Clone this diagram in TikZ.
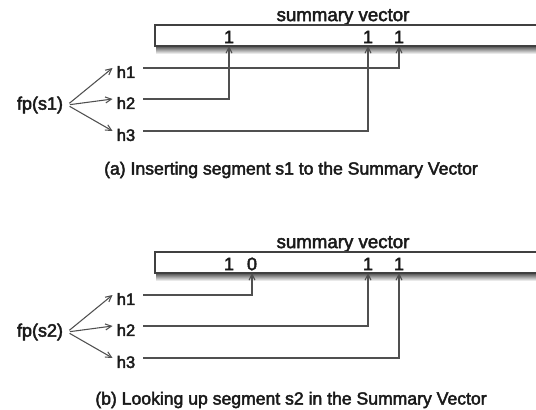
\documentclass[tikz,border=0pt]{standalone}
\usepackage{fontspec}
\setmainfont{Liberation Sans}[FakeBold=2.5]
\usetikzlibrary{arrows.meta}
\definecolor{linec}{HTML}{505050}
\definecolor{textc}{HTML}{1A1A1A}
\definecolor{barc}{HTML}{404040}
\begin{document}
\begin{tikzpicture}[x=0.75pt,y=-0.75pt,
  conn/.style={draw=linec, line width=0.8pt, -{Straight Barb[length=4.5pt,width=4.5pt]}},
  hlab/.style={font=\fontsize{12.4}{14}\selectfont, text=textc, inner xsep=3pt, inner ysep=1pt},
  fplab/.style={font=\fontsize{13.5}{15}\selectfont, text=textc, inner xsep=3pt},
  bitlab/.style={font=\fontsize{13.5}{15}\selectfont, text=textc, inner sep=0pt},
  titlelab/.style={font=\fontsize{14}{16}\selectfont, text=textc, inner sep=0pt},
  caplab/.style={font=\fontsize{13.2}{15}\selectfont, text=textc, inner sep=0pt},
  barbox/.style={draw=barc, line width=1.1pt, fill=white}]
\useasboundingbox (0,0) rectangle (536,410);
\clip (0,0) rectangle (536,410);

% ---------------- panel (a)
\node[titlelab] (sva) at (343,17) {summary vector};
\shade[top color=black!70, bottom color=white] (156,46) rectangle (560,54);
\draw[barbox] (155,25) rectangle (560,46);
\coordinate (barA) at (0,46);
\node[bitlab] (a1) at (229,37) {1};
\node[bitlab] (a2) at (368,37) {1};
\node[bitlab] (a3) at (399,37) {1};
\node[fplab] (fpa) at (40,105) {fp(s1)};
\node[hlab] (ah1) at (126,72) {h1};
\node[hlab] (ah2) at (126,103) {h2};
\node[hlab] (ah3) at (126,135) {h3};
\draw[conn, shorten <=2pt] (fpa.east) -- ([yshift=3pt]ah1.west);
\draw[conn, shorten <=2pt] (fpa.east) -- ([yshift=3pt]ah2.west);
\draw[conn, shorten <=2pt] (fpa.east) -- ([yshift=3pt]ah3.west);
\draw[conn] ([xshift=3pt,yshift=3pt]ah1.east) -| (a3 |- barA);
\draw[conn] ([xshift=3pt,yshift=3pt]ah2.east) -| (a1 |- barA);
\draw[conn] ([xshift=3pt,yshift=3pt]ah3.east) -| (a2 |- barA);
\node[caplab] (capa) at (291,170) {(a) Inserting segment s1 to the Summary Vector};

% ---------------- panel (b)
\begin{scope}[shift={(0,227)}]
\node[titlelab] (svb) at (343,17) {summary vector};
\shade[top color=black!70, bottom color=white] (156,46) rectangle (560,54);
\draw[barbox] (155,25) rectangle (560,46);
\coordinate (barB) at (0,46);
\node[bitlab] (b0) at (229,37) {1};
\node[bitlab] (b1) at (252,37) {0};
\node[bitlab] (b2) at (368,37) {1};
\node[bitlab] (b3) at (399,37) {1};
\node[fplab] (fpb) at (40,105) {fp(s2)};
\node[hlab] (bh1) at (126,72) {h1};
\node[hlab] (bh2) at (126,103) {h2};
\node[hlab] (bh3) at (126,135) {h3};
\draw[conn, shorten <=2pt] (fpb.east) -- ([yshift=3pt]bh1.west);
\draw[conn, shorten <=2pt] (fpb.east) -- ([yshift=3pt]bh2.west);
\draw[conn, shorten <=2pt] (fpb.east) -- ([yshift=3pt]bh3.west);
\draw[conn] ([xshift=3pt,yshift=3pt]bh1.east) -| (b1 |- barB);
\draw[conn] ([xshift=3pt,yshift=3pt]bh2.east) -| (b2 |- barB);
\draw[conn] ([xshift=3pt,yshift=3pt]bh3.east) -| (b3 |- barB);
\end{scope}
\node[caplab] (capb) at (291,400) {(b) Looking up segment s2 in the Summary Vector};
\end{tikzpicture}
\end{document}
